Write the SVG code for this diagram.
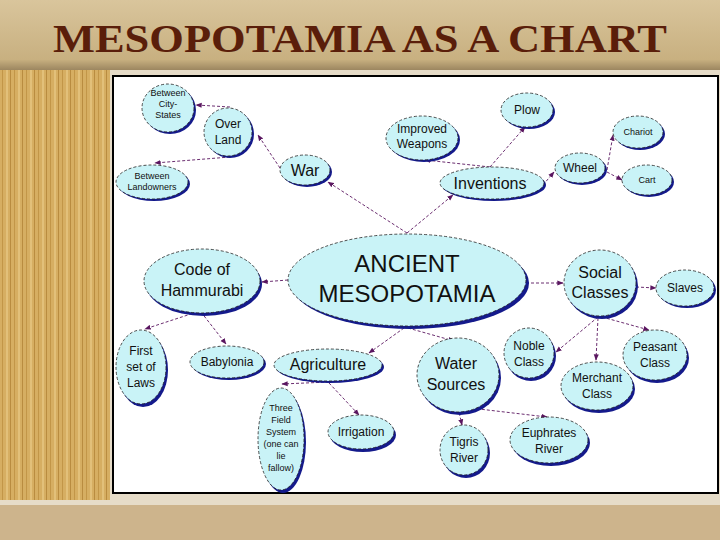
<svg xmlns="http://www.w3.org/2000/svg" width="720" height="540" viewBox="0 0 720 540">
<defs>
<linearGradient id="tb" x1="0" y1="0" x2="0" y2="1"><stop offset="0" stop-color="#d9c59c"/><stop offset="0.85" stop-color="#c8b080"/><stop offset="1" stop-color="#9c8660"/></linearGradient>
<pattern id="wood" width="12" height="540" patternUnits="userSpaceOnUse"><rect width="12" height="540" fill="#d6ae62"/><rect x="2" width="1" height="540" fill="#c29648"/><rect x="6" width="2" height="540" fill="#e2c07a"/><rect x="10" width="1" height="540" fill="#b98c40"/></pattern>
<marker id="ar" viewBox="0 0 10 10" refX="9" refY="5" markerWidth="7" markerHeight="7" orient="auto"><path d="M0,1 L10,5 L0,9 z" fill="#5a1660"/></marker>
</defs>
<style>
.sh{fill:#141a8c}
.nd{fill:#c9f3f7;stroke:#222;stroke-width:0.8;stroke-dasharray:3 2}
.c line{stroke:#5a1660;stroke-width:0.9;stroke-dasharray:3 2;marker-end:url(#ar)}
text{font-family:"Liberation Sans",Arial,sans-serif;fill:#111;text-anchor:middle}
.s{font-size:9px}.m{font-size:12px}.l{font-size:16px}
</style>
<rect width="720" height="540" fill="#e6dcc8"/>
<rect x="0" y="70" width="110" height="430" fill="url(#wood)"/>
<rect x="0" y="0" width="720" height="70" fill="url(#tb)"/>
<rect x="0" y="505" width="720" height="35" fill="#cdb48c"/>
<text x="360" y="52" textLength="614" lengthAdjust="spacingAndGlyphs" style="font-family:'Liberation Serif','Times New Roman',serif;font-size:41px;font-weight:bold;fill:#5a1e0a">MESOPOTAMIA AS A CHART</text>
<rect x="113" y="76" width="605" height="417" fill="#fff" stroke="#000" stroke-width="2"/>
<g class="c">
<line x1="407" y1="233" x2="328" y2="182"/>
<line x1="407" y1="233" x2="453" y2="195"/>
<line x1="280" y1="168" x2="258" y2="135"/>
<line x1="230" y1="107" x2="196" y2="105"/>
<line x1="230" y1="157" x2="155" y2="163"/>
<line x1="490" y1="167" x2="425" y2="160"/>
<line x1="490" y1="167" x2="525" y2="127"/>
<line x1="543" y1="185" x2="554" y2="172"/>
<line x1="607" y1="170" x2="613" y2="135"/>
<line x1="607" y1="172" x2="622" y2="180"/>
<line x1="288" y1="280" x2="262" y2="282"/>
<line x1="526" y1="283" x2="563" y2="283"/>
<line x1="636" y1="287" x2="656" y2="288"/>
<line x1="197" y1="312" x2="145" y2="329"/>
<line x1="201" y1="312" x2="226" y2="344"/>
<line x1="404" y1="328" x2="369" y2="353"/>
<line x1="408" y1="328" x2="454" y2="341"/>
<line x1="329" y1="382" x2="282" y2="384"/>
<line x1="329" y1="383" x2="359" y2="415"/>
<line x1="458" y1="408" x2="462" y2="425"/>
<line x1="462" y1="407" x2="547" y2="417"/>
<line x1="598" y1="317" x2="556" y2="352"/>
<line x1="598" y1="318" x2="596" y2="360"/>
<line x1="602" y1="317" x2="649" y2="330"/>
</g>
<g id="n-city"><ellipse class="sh" cx="170" cy="110" rx="26" ry="24"/><ellipse class="nd" cx="168" cy="108" rx="26" ry="24"/><text class="s" x="168" y="96">Between</text><text class="s" x="168" y="107">City-</text><text class="s" x="168" y="118">States</text></g>
<g id="n-overland"><ellipse class="sh" cx="230" cy="134" rx="24" ry="24"/><ellipse class="nd" cx="228" cy="132" rx="24" ry="24"/><text class="m" x="228" y="128">Over</text><text class="m" x="228" y="144">Land</text></g>
<g id="n-landowners"><ellipse class="sh" cx="154" cy="184" rx="36" ry="17"/><ellipse class="nd" cx="152" cy="182" rx="36" ry="17"/><text class="s" x="152" y="179">Between</text><text class="s" x="152" y="190">Landowners</text></g>
<g id="n-war"><ellipse class="sh" cx="307" cy="172" rx="25" ry="15"/><ellipse class="nd" cx="305" cy="170" rx="25" ry="15"/><text class="l" x="305" y="176">War</text></g>
<g id="n-weapons"><ellipse class="sh" cx="424" cy="140" rx="36" ry="22"/><ellipse class="nd" cx="422" cy="138" rx="36" ry="22"/><text class="m" x="422" y="133">Improved</text><text class="m" x="422" y="148">Weapons</text></g>
<g id="n-plow"><ellipse class="sh" cx="529" cy="112" rx="26" ry="17"/><ellipse class="nd" cx="527" cy="110" rx="26" ry="17"/><text class="m" x="527" y="114">Plow</text></g>
<g id="n-inventions"><ellipse class="sh" cx="494" cy="185" rx="52" ry="16"/><ellipse class="nd" cx="492" cy="183" rx="52" ry="16"/><text class="l" x="490" y="189">Inventions</text></g>
<g id="n-wheel"><ellipse class="sh" cx="582" cy="170" rx="25" ry="15"/><ellipse class="nd" cx="580" cy="168" rx="25" ry="15"/><text class="m" x="580" y="172">Wheel</text></g>
<g id="n-chariot"><ellipse class="sh" cx="640" cy="134" rx="25" ry="16"/><ellipse class="nd" cx="638" cy="132" rx="25" ry="16"/><text class="s" x="638" y="135">Chariot</text></g>
<g id="n-cart"><ellipse class="sh" cx="649" cy="182" rx="25" ry="15"/><ellipse class="nd" cx="647" cy="180" rx="25" ry="15"/><text class="s" x="647" y="183">Cart</text></g>
<g id="n-center"><ellipse class="sh" cx="410" cy="283" rx="119" ry="46"/><ellipse class="nd" cx="407" cy="280" rx="119" ry="46"/><text x="407" y="272" style="font-size:24px">ANCIENT</text><text x="407" y="302" style="font-size:24px">MESOPOTAMIA</text></g>
<g id="n-code"><ellipse class="sh" cx="204" cy="284" rx="58" ry="32"/><ellipse class="nd" cx="202" cy="281" rx="58" ry="32"/><text class="l" x="202" y="275">Code of</text><text class="l" x="202" y="296">Hammurabi</text></g>
<g id="n-social"><ellipse class="sh" cx="602" cy="286" rx="36" ry="33"/><ellipse class="nd" cx="600" cy="283" rx="36" ry="33"/><text class="l" x="600" y="278">Social</text><text class="l" x="600" y="298">Classes</text></g>
<g id="n-slaves"><ellipse class="sh" cx="687" cy="290" rx="29" ry="18"/><ellipse class="nd" cx="685" cy="288" rx="29" ry="18"/><text class="m" x="685" y="292">Slaves</text></g>
<g id="n-first"><ellipse class="sh" cx="143" cy="370" rx="25" ry="37"/><ellipse class="nd" cx="141" cy="367" rx="25" ry="37"/><text class="m" x="141" y="355">First</text><text class="m" x="141" y="371">set of</text><text class="m" x="141" y="387">Laws</text></g>
<g id="n-babylonia"><ellipse class="sh" cx="229" cy="364" rx="37" ry="16"/><ellipse class="nd" cx="227" cy="362" rx="37" ry="16"/><text class="m" x="227" y="366">Babylonia</text></g>
<g id="n-agri"><ellipse class="sh" cx="330" cy="367" rx="54" ry="16"/><ellipse class="nd" cx="328" cy="365" rx="54" ry="16"/><text class="l" x="328" y="370">Agriculture</text></g>
<g id="n-water"><ellipse class="sh" cx="460" cy="378" rx="41" ry="37"/><ellipse class="nd" cx="458" cy="375" rx="41" ry="37"/><text class="l" x="456" y="369">Water</text><text class="l" x="456" y="390">Sources</text></g>
<g id="n-noble"><ellipse class="sh" cx="531" cy="356" rx="25" ry="25"/><ellipse class="nd" cx="529" cy="353" rx="25" ry="25"/><text class="m" x="529" y="350">Noble</text><text class="m" x="529" y="366">Class</text></g>
<g id="n-peasant"><ellipse class="sh" cx="657" cy="358" rx="32" ry="25"/><ellipse class="nd" cx="655" cy="355" rx="32" ry="25"/><text class="m" x="655" y="351">Peasant</text><text class="m" x="655" y="367">Class</text></g>
<g id="n-merchant"><ellipse class="sh" cx="599" cy="389" rx="36" ry="24"/><ellipse class="nd" cx="597" cy="386" rx="36" ry="24"/><text class="m" x="597" y="382">Merchant</text><text class="m" x="597" y="398">Class</text></g>
<g id="n-three"><ellipse class="sh" cx="283" cy="442" rx="23" ry="51"/><ellipse class="nd" cx="281" cy="439" rx="23" ry="51"/><text class="s" x="281" y="411">Three</text><text class="s" x="281" y="423">Field</text><text class="s" x="281" y="435">System</text><text class="s" x="281" y="447">(one can</text><text class="s" x="281" y="459">lie</text><text class="s" x="281" y="471">fallow)</text></g>
<g id="n-irrigation"><ellipse class="sh" cx="363" cy="435" rx="33" ry="17"/><ellipse class="nd" cx="361" cy="432" rx="33" ry="17"/><text class="m" x="361" y="436">Irrigation</text></g>
<g id="n-tigris"><ellipse class="sh" cx="466" cy="453" rx="24" ry="25"/><ellipse class="nd" cx="464" cy="450" rx="24" ry="25"/><text class="m" x="464" y="446">Tigris</text><text class="m" x="464" y="462">River</text></g>
<g id="n-euphrates"><ellipse class="sh" cx="551" cy="443" rx="39" ry="23"/><ellipse class="nd" cx="549" cy="440" rx="39" ry="23"/><text class="m" x="549" y="437">Euphrates</text><text class="m" x="549" y="453">River</text></g>
</svg>
